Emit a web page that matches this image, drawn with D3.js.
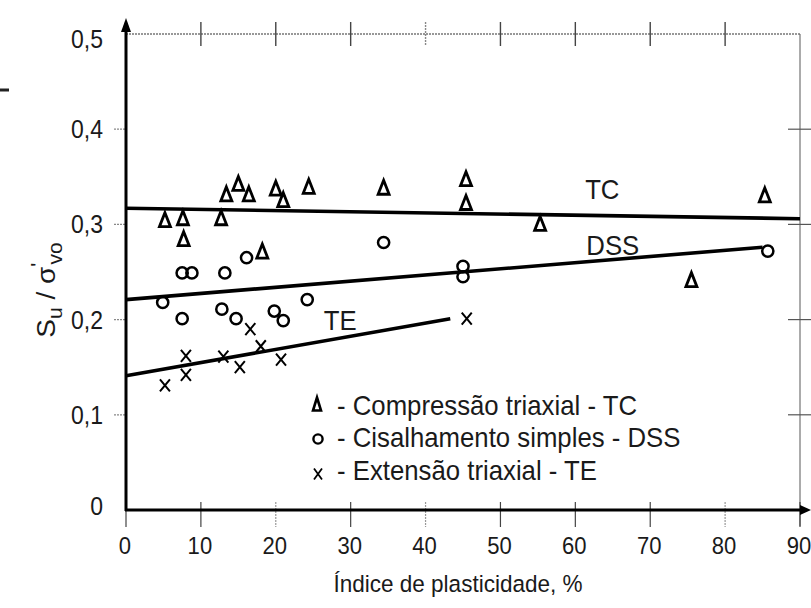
<!DOCTYPE html>
<html><head><meta charset="utf-8">
<script src="https://cdn.jsdelivr.net/npm/d3@7"></script>
<style>html,body{margin:0;padding:0;background:#fff;}svg{display:block;font-family:"Liberation Sans",Arial,sans-serif;}</style>
</head><body>
<svg id="c" width="811" height="608"></svg>
<script>
// ---- data ----
const xTicks = [0,10,20,30,40,50,60,70,80,90];
const yTicks = [0,0.1,0.2,0.3,0.4,0.5];
const yTickLabels = ["0","0,1","0,2","0,3","0,4","0,5"];

const tcIP    = [5.2,7.6,7.7,12.7,13.4,15.0,16.4,18.2,20.0,21.0,24.4,34.4,45.4,45.4,55.3,75.5,85.3];
const tcRatio = [0.305,0.307,0.285,0.307,0.332,0.343,0.332,0.272,0.338,0.326,0.340,0.339,0.348,0.323,0.301,0.242,0.331];

const dssIP    = [4.9,7.5,8.8,13.2,16.1,7.5,12.8,14.7,19.8,21.0,24.2,34.4,45.0,45.0,85.7];
const dssRatio = [0.218,0.249,0.249,0.249,0.265,0.201,0.211,0.201,0.209,0.199,0.221,0.281,0.256,0.245,0.272];

const teIP    = [5.2,8.0,8.0,13.0,15.2,16.6,18.0,20.7,45.5];
const teRatio = [0.131,0.162,0.142,0.161,0.150,0.190,0.172,0.158,0.201];

const tcLineIP = [0,90],   tcLineRatio = [0.317,0.306];
const dssLineIP = [0,85],  dssLineRatio = [0.221,0.276];
const teLineIP = [0,43.3], teLineRatio = [0.141,0.201];

const lineLabels = ["TC","DSS","TE"];
const legendLabels = ["- Compressão triaxial - TC","- Cisalhamento simples - DSS","- Extensão triaxial - TE"];
const xTitle = "Índice de plasticidade, %";

// ---- drawing ----
const svg = d3.select("#c");
const x = d3.scaleLinear().domain([0,90]).range([126,800]);
const y = d3.scaleLinear().domain([0,0.5]).range([510,34]);
const SX = 0.92;
const INK = "#1a1a1a";

function txt(g, px, py, s, size, anchor){
  return g.append("text").attr("transform",`translate(${px},${py}) scale(${SX},1)`)
    .attr("text-anchor",anchor||"start").attr("font-size",size).attr("fill",INK).text(s);
}

// top border (dotted) with ticks
svg.append("line").attr("x1",x(0)).attr("x2",x(90)).attr("y1",y(0.5)).attr("y2",y(0.5))
  .attr("stroke","#777").attr("stroke-width",1.4).attr("stroke-dasharray","2,1");
svg.append("g").selectAll("line").data(xTicks.slice(1,9)).join("line")
  .attr("x1",d=>x(d)).attr("x2",d=>x(d)).attr("y1",y(0.5)-12).attr("y2",y(0.5)+12)
  .attr("stroke",d=>d===40?"#888":"#444").attr("stroke-width",1.4)
  .attr("stroke-dasharray",d=>d===40?"2,1":null);
// right border
svg.append("line").attr("x1",x(90)).attr("x2",x(90)).attr("y1",y(0.5)).attr("y2",y(0)+16)
  .attr("stroke","#666").attr("stroke-width",1.1);
svg.append("g").selectAll("line").data(yTicks.slice(1,5)).join("line")
  .attr("x1",x(90)-12).attr("x2",811).attr("y1",d=>y(d)).attr("y2",d=>y(d))
  .attr("stroke","#555").attr("stroke-width",1.2);
// left small ticks
svg.append("g").selectAll("line").data(yTicks.slice(1,5)).join("line")
  .attr("x1",x(0)-12).attr("x2",x(0)).attr("y1",d=>y(d)).attr("y2",d=>y(d))
  .attr("stroke","#888").attr("stroke-width",1.2).attr("stroke-dasharray","2,1");
// bottom ticks
svg.append("g").selectAll("line").data(xTicks).join("line")
  .attr("x1",d=>x(d)).attr("x2",d=>x(d)).attr("y1",y(0)-8).attr("y2",y(0)+17)
  .attr("stroke",d=>(d===20||d===40||d===80)?"#999":"#444").attr("stroke-width",1.2)
  .attr("stroke-dasharray",d=>(d===20||d===40||d===80)?"2,1":null);

// axes (thick with arrows)
svg.append("line").attr("x1",x(0)).attr("x2",x(0)).attr("y1",y(0)+1).attr("y2",26)
  .attr("stroke","#000").attr("stroke-width",3);
svg.append("path").attr("d",`M${x(0)-5},32 L${x(0)},18 L${x(0)+5},32 Z`).attr("fill","#000");
svg.append("line").attr("x1",x(0)-1).attr("x2",804).attr("y1",y(0)).attr("y2",y(0))
  .attr("stroke","#000").attr("stroke-width",3.2);
svg.append("path").attr("d",`M800,${y(0)-5} L811,${y(0)} L800,${y(0)+5} Z`).attr("fill","#000");

// stray mark
svg.append("line").attr("x1",0).attr("x2",9).attr("y1",90).attr("y2",90).attr("stroke","#222").attr("stroke-width",3);

// tick labels
const gx = svg.append("g");
xTicks.forEach(d=>txt(gx, x(d)-1, y(0)+44, String(d), 24, "middle"));
const gy = svg.append("g");
yTicks.forEach((d,i)=>txt(gy, 103, y(d)+9+(i===5?5:(i===0?-4:0)), yTickLabels[i], 25, "end"));

// axis titles
txt(svg, 458, 592, xTitle, 24.5, "middle");
const yt = svg.append("text").attr("transform","translate(55,290) rotate(-90) scale(1,0.92)")
  .attr("text-anchor","middle").attr("font-size",28).attr("fill",INK);
yt.append("tspan").text("S");
yt.append("tspan").attr("font-size",21).attr("dy",8).text("u");
yt.append("tspan").attr("dy",-8).text(" / σ");
yt.append("tspan").attr("font-size",22).attr("dy",-11).text("'");
yt.append("tspan").attr("font-size",21).attr("dy",19).attr("dx",-2).text("vo");

// trend lines
const lineGen = d3.line().x(d=>x(d[0])).y(d=>y(d[1]));
[[tcLineIP,tcLineRatio],[dssLineIP,dssLineRatio],[teLineIP,teLineRatio]].forEach(([a,b])=>{
  svg.append("path").attr("d",lineGen(a.map((v,i)=>[v,b[i]])))
    .attr("fill","none").attr("stroke","#000").attr("stroke-width",3.6);
});

// line labels
const lblPos = [[63.6,0.337],[65.0,0.278],[28.6,0.200]];
lineLabels.forEach((d,i)=>txt(svg, x(lblPos[i][0]), y(lblPos[i][1])+10, d, 28, "middle"));

// markers
function tri(g,cx,cy,w,h,sw){
  g.append("path").attr("d",`M${cx},${cy-h/2} L${cx+w/2},${cy+h/2} L${cx-w/2},${cy+h/2} Z`)
   .attr("fill","none").attr("stroke","#000").attr("stroke-width",sw).attr("stroke-linejoin","miter");
}
function circ(g,cx,cy,r,sw){
  g.append("circle").attr("cx",cx).attr("cy",cy).attr("r",r).attr("fill","none").attr("stroke","#000").attr("stroke-width",sw);
}
function cross(g,cx,cy,w,h,sw){
  g.append("path").attr("d",`M${cx-w/2},${cy-h/2} L${cx+w/2},${cy+h/2} M${cx+w/2},${cy-h/2} L${cx-w/2},${cy+h/2}`)
   .attr("stroke","#000").attr("stroke-width",sw).attr("fill","none");
}
const gm = svg.append("g");
tcIP.forEach((v,i)=>tri(gm,x(v),y(tcRatio[i]),11,14,2.8));
dssIP.forEach((v,i)=>circ(gm,x(v),y(dssRatio[i]),5.6,2.5));
teIP.forEach((v,i)=>cross(gm,x(v),y(teRatio[i]),10,12,2.0));

// legend
const legY = [405,437,470];
tri(gm,317,legY[0]-1,8,13,2.6);
circ(gm,318,legY[1]+2,4.6,2.4);
cross(gm,318,legY[2]+4,8,11,1.8);
const gl = svg.append("g");
legendLabels.forEach((d,i)=>txt(gl, 337, legY[i]+10, d, 28, "start"));
</script>
</body></html>
